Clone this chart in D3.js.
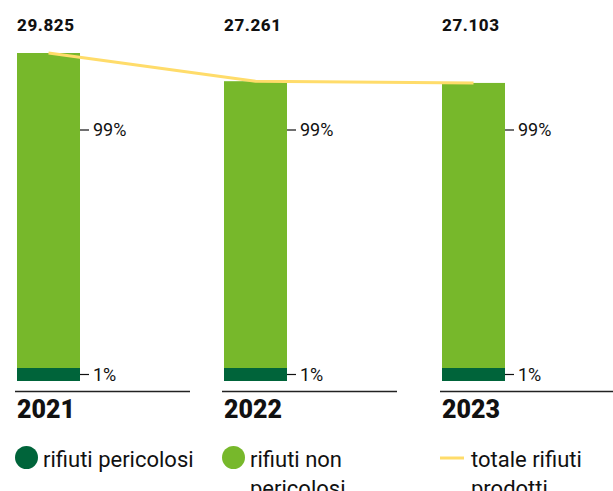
<!DOCTYPE html>
<html>
<head>
<meta charset="utf-8">
<script src="https://cdn.jsdelivr.net/npm/d3@7"></script>
<style>
  html, body { margin: 0; padding: 0; background: #ffffff; }
  svg { display: block; }
  text { font-family: Roboto, "Noto Sans", sans-serif; fill: #111; }
</style>
</head>
<body>
<svg id="chart" width="613" height="491"></svg>
<script>
// Rifiuti prodotti per anno (tonnellate) e ripartizione percentuale
const years = ["2021", "2022", "2023"];
const totals = [29825, 27261, 27103];
const totalLabels = ["29.825", "27.261", "27.103"];
const sharePericolosi = [1, 1, 1];
const shareNonPericolosi = [99, 99, 99];
const legendLabels = [["rifiuti pericolosi"], ["rifiuti non", "pericolosi"], ["totale rifiuti", "prodotti"]];

const colDark = "#00643a";
const colLight = "#77b82b";
const colLine = "#ffdc6a";

const svg = d3.select("#chart");

// colonne per anno
const x = d3.scaleOrdinal().domain(years).range([15, 222, 440]);
const y = d3.scaleLinear().domain([0, d3.max(totals)]).range([381, 53]);

const barW = 63, barOff = 2, groupW = 175, minSeg = 13;

const data = years.map((yr, i) => ({
  year: yr, total: totals[i], label: totalLabels[i],
  per: sharePericolosi[i], non: shareNonPericolosi[i]
}));

const g = svg.append("g");

// barre: parte non pericolosa (verde chiaro) e pericolosa (verde scuro)
data.forEach(d => {
  const x0 = x(d.year) + barOff;
  const perH = Math.max(y(0) - y(d.total * d.per / 100), minSeg);
  g.append("rect")
    .attr("x", x0).attr("width", barW)
    .attr("y", y(d.total)).attr("height", y(0) - y(d.total) - perH)
    .attr("fill", colLight);
  g.append("rect")
    .attr("x", x0).attr("width", barW)
    .attr("y", y(0) - perH).attr("height", perH)
    .attr("fill", colDark);

  // etichette percentuali con trattino
  const tickPos = [
    { yy: 130, txt: d.non + "%" },
    { yy: y(0) - perH / 2, txt: d.per + "%" }
  ];
  tickPos.forEach(t => {
    g.append("line")
      .attr("x1", x0 + barW).attr("x2", x0 + barW + 9)
      .attr("y1", t.yy).attr("y2", t.yy)
      .attr("stroke", "#111").attr("stroke-width", 1.2);
    g.append("text")
      .attr("x", x0 + barW + 13).attr("y", t.yy)
      .attr("dy", "0.35em")
      .style("font-size", "18px")
      .text(t.txt);
  });

  // valore totale in alto
  g.append("text")
    .attr("x", x0).attr("y", 31)
    .style("font-size", "17px").style("font-weight", 800)
    .style("letter-spacing", "0.6px")
    .text(d.label);

  // linea di base e anno
  g.append("line")
    .attr("x1", x(d.year)).attr("x2", x(d.year) + groupW)
    .attr("y1", 391.5).attr("y2", 391.5)
    .attr("stroke", "#222").attr("stroke-width", 1.3);
  g.append("text")
    .attr("x", x0).attr("y", 418)
    .style("font-size", "25px").style("font-weight", 900)
    .text(d.year);
});

// linea del totale rifiuti prodotti
const line = d3.line()
  .x(d => x(d.year) + barOff + barW / 2)
  .y(d => y(d.total))
  .curve(d3.curveLinear);
g.append("path")
  .datum(data)
  .attr("d", line)
  .attr("fill", "none")
  .attr("stroke", colLine)
  .attr("stroke-width", 3)
  .attr("stroke-linejoin", "round");

// legenda
const leg = svg.append("g");
legendLabels.forEach((lines, i) => {
  const lx = x(years[i]);
  const item = leg.append("g");
  if (i < 2) {
    item.append("circle")
      .attr("cx", lx + 11.5).attr("cy", 457.5).attr("r", 11.5)
      .attr("fill", i === 0 ? colDark : colLight);
  } else {
    item.append("line")
      .attr("x1", lx).attr("x2", lx + 24)
      .attr("y1", 458).attr("y2", 458)
      .attr("stroke", colLine).attr("stroke-width", 3);
  }
  const tx = i < 2 ? lx + 28 : lx + 31;
  const t = item.append("text")
    .attr("x", tx).attr("y", 467)
    .style("font-size", "22px");
  lines.forEach((s, k) => {
    t.append("tspan").attr("x", tx).attr("dy", k === 0 ? 0 : 29).text(s);
  });
});
</script>
</body>
</html>
